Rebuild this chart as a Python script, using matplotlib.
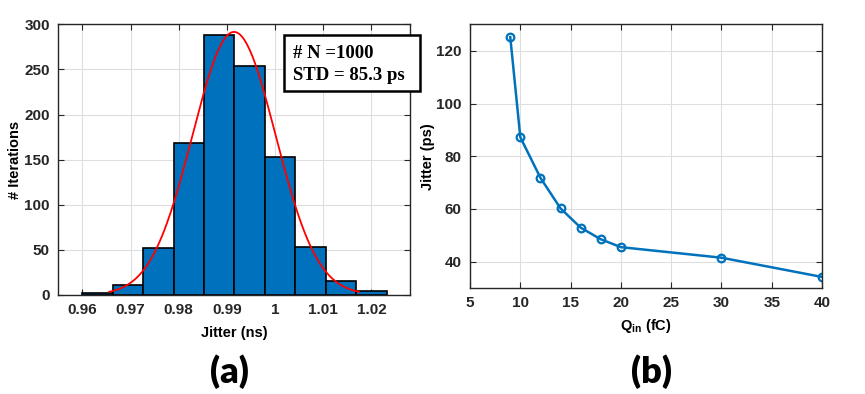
import numpy as np
import matplotlib
matplotlib.use('Agg')
import matplotlib.pyplot as plt
from matplotlib.patches import Rectangle

# (a) histogram of jitter
bin_start = 0.96
bin_width = 0.006313
counts = [2, 11, 52, 168, 288, 254, 153, 53, 15, 4]

# (b) jitter vs input charge
q_in = [9, 10, 12, 14, 16, 18, 20, 30, 40]
jitter_ps = [125.2, 87.2, 71.8, 60.2, 52.9, 48.5, 45.5, 41.5, 34.2]

blue = '#0072BD'
grid_c = '#dedede'
spine_c = '#262626'

plt.rcParams['font.family'] = ['Liberation Sans', 'DejaVu Sans']
plt.rcParams['font.weight'] = 'bold'
plt.rcParams['axes.labelweight'] = 'bold'
plt.rcParams['mathtext.fontset'] = 'custom'
plt.rcParams['mathtext.rm'] = 'Liberation Sans:bold'
plt.rcParams['mathtext.bf'] = 'Liberation Sans:bold'

fig = plt.figure(figsize=(8.65, 3.94), dpi=100)


def style(ax):
    ax.grid(True, color=grid_c, lw=0.8)
    ax.set_axisbelow(True)
    for s in ax.spines.values():
        s.set_color(spine_c)
        s.set_linewidth(1.0)
    ax.tick_params(direction='in', top=True, right=True, length=4,
                   color=spine_c, labelsize=11, labelcolor='#262626', pad=6)


# ---- left: histogram + fit
ax1 = fig.add_axes([0.0674, 0.252, 0.4066, 0.686])
edges = bin_start + bin_width * np.arange(len(counts) + 1)
ax1.bar(edges[:-1], counts, width=bin_width, align='edge',
        color=blue, edgecolor='black', linewidth=1.2)

# normal fit of the binned data (with Sheppard correction), drawn over mean +/- 3 sigma
centers = edges[:-1] + bin_width / 2
c = np.array(counts)
mu = np.sum(centers * c) / c.sum()
var = np.sum(c * (centers - mu) ** 2) / c.sum() - bin_width ** 2 / 12
sigma = np.sqrt(var)
xs = np.linspace(mu - 3 * sigma, mu + 3 * sigma, 200)
ys = c.sum() * bin_width / (sigma * np.sqrt(2 * np.pi)) * np.exp(-0.5 * ((xs - mu) / sigma) ** 2)
ax1.plot(xs, ys, color='red', lw=1.3)

ax1.set_xlim(0.955, 1.028)
ax1.set_ylim(0, 300)
ax1.set_xticks([0.96, 0.97, 0.98, 0.99, 1.0, 1.01, 1.02])
ax1.set_xticklabels(['0.96', '0.97', '0.98', '0.99', '1', '1.01', '1.02'])
ax1.set_yticks([0, 50, 100, 150, 200, 250, 300])
style(ax1)
ax1.set_xlabel('Jitter (ns)', fontsize=10.5)
ax1.set_ylabel('# Iterations', fontsize=10.5)
ax1.xaxis.set_label_coords(0.5, -0.115)
ax1.yaxis.set_label_coords(-0.103, 0.5)

# stats box
fig.patches.append(Rectangle((283.5 / 865, 1 - 90.5 / 394), 136 / 865, 55 / 394,
                             transform=fig.transFigure, facecolor='white',
                             edgecolor='black', lw=1.8, zorder=5))
fig.text(293 / 865, 1 - 53 / 394, '# N =1000', family='Liberation Serif',
         fontsize=13.5, weight='bold', va='center', zorder=6)
fig.text(293 / 865, 1 - 75.5 / 394, 'STD = 85.3 ps', family='Liberation Serif',
         fontsize=13.5, weight='bold', va='center', zorder=6)

# ---- right: jitter vs Qin
ax2 = fig.add_axes([0.5434, 0.269, 0.4069, 0.669])
ax2.plot(q_in, jitter_ps, color=blue, lw=1.8, marker='o', ms=5.5,
         markerfacecolor='none', markeredgewidth=1.6)
ax2.set_xlim(5, 40)
ax2.set_ylim(30, 130)
ax2.set_xticks([5, 10, 15, 20, 25, 30, 35, 40])
ax2.set_yticks([40, 60, 80, 100, 120])
style(ax2)
ax2.set_xlabel('Q$_{\\mathrm{in}}$ (fC)', fontsize=10.5)
ax2.set_ylabel('Jitter (ps)', fontsize=10.5)
ax2.xaxis.set_label_coords(0.5, -0.11)
ax2.yaxis.set_label_coords(-0.099, 0.5)

fig.text(229 / 865, 1 - 372 / 394, '(a)', family='Lato', weight='heavy',
         fontsize=26, ha='center', va='center')
fig.text(652 / 865, 1 - 372 / 394, '(b)', family='Lato', weight='heavy',
         fontsize=26, ha='center', va='center')

fig.savefig('out.png', dpi=100)
